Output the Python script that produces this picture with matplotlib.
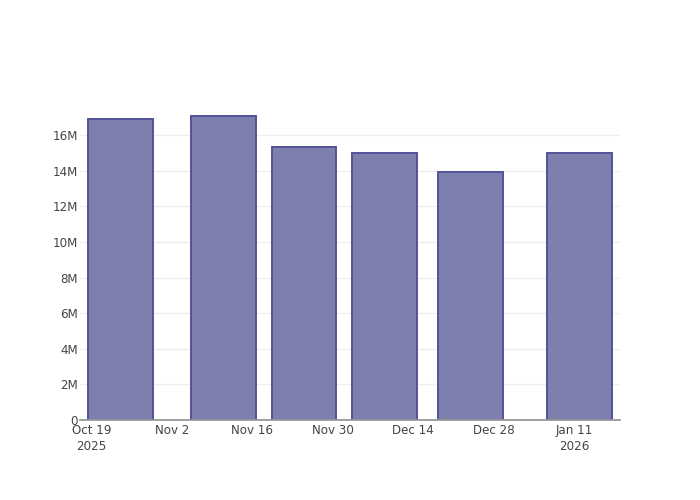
import matplotlib
matplotlib.use("Agg")
import matplotlib.pyplot as plt
import matplotlib.dates as mdates
import numpy as np
from datetime import datetime, timedelta

dates = ["2025-10-24", "2025-11-11", "2025-11-25", "2025-12-09", "2025-12-24", "2026-01-12"]
values = [16.9e6, 17.08e6, 15.33e6, 15.02e6, 13.92e6, 15.0e6]
yticks = [0, 2e6, 4e6, 6e6, 8e6, 10e6, 12e6, 14e6, 16e6]
ytick_labels = ["0", "2M", "4M", "6M", "8M", "10M", "12M", "14M", "16M"]
xticks = ["2025-10-19", "2025-11-02", "2025-11-16", "2025-11-30", "2025-12-14", "2025-12-28", "2026-01-11"]
xtick_labels = ["Oct 19\n2025", "Nov 2", "Nov 16", "Nov 30", "Dec 14", "Dec 28", "Jan 11\n2026"]

fig = plt.figure(figsize=(7, 5), dpi=100)
ax = fig.add_axes([80/700, 80/500, 540/700, 320/500])

x = [datetime.strptime(d, "%Y-%m-%d") for d in dates]
ax.bar(x, values, width=11.3, color="#7f7fae", edgecolor="#52529a", linewidth=1.4, zorder=3)

ax.set_xlim(datetime(2025, 10, 17), datetime(2026, 1, 19))
ax.set_ylim(0, 17.98e6)
ax.set_yticks(yticks)
ax.set_yticklabels(ytick_labels)
ax.set_xticks([datetime.strptime(d, "%Y-%m-%d") for d in xticks])
ax.set_xticklabels(xtick_labels)

ax.grid(axis="y", color="#eeeeee", linewidth=1, zorder=0)
ax.grid(axis="x", visible=False)
for s in ["top", "right", "left"]:
    ax.spines[s].set_visible(False)
ax.spines["bottom"].set_color("#999999")
ax.spines["bottom"].set_linewidth(1.3)
ax.spines["bottom"].set_zorder(4)
ax.tick_params(axis="both", length=0, labelsize=8.6, labelcolor="#444444")
ax.tick_params(axis="y", pad=1.5)
ax.tick_params(axis="x", pad=3)
for lbl in ax.get_xticklabels():
    lbl.set_linespacing(1.3)

fig.savefig("out.png", dpi=100)
